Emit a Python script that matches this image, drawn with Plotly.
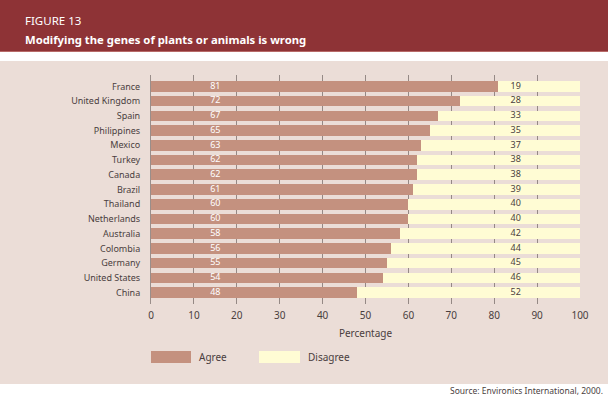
import plotly.graph_objects as go

countries = ["France", "United Kingdom", "Spain", "Philippines", "Mexico", "Turkey",
             "Canada", "Brazil", "Thailand", "Netherlands", "Australia", "Colombia",
             "Germany", "United States", "China"]
agree = [81, 72, 67, 65, 63, 62, 62, 61, 60, 60, 58, 56, 55, 54, 48]
disagree = [19, 28, 33, 35, 37, 38, 38, 39, 40, 40, 42, 44, 45, 46, 52]
x_ticks = [0, 10, 20, 30, 40, 50, 60, 70, 80, 90, 100]

AGREE_COL = "#c4917f"
DISAGREE_COL = "#fffcd4"
PANEL = "#ebddd7"
HEADER = "#8e3336"
TXT = "#4a3e3e"
FONT = "Noto Sans"

W, H = 608, 396
L, R, T, B = 151, 28, 75, 92
PW, PH = W - L - R, H - T - B


def px(x):
    return (x - L) / PW


def py(y):
    return (H - B - y) / PH


fig = go.Figure()
fig.add_trace(go.Bar(y=countries, x=agree, orientation="h", name="Agree",
                     marker=dict(color=AGREE_COL, line=dict(width=0))))
fig.add_trace(go.Bar(y=countries, x=disagree, orientation="h", name="Disagree",
                     marker=dict(color=DISAGREE_COL, line=dict(width=0))))
fig.add_trace(go.Scatter(y=countries, x=[15] * len(countries), mode="text",
                         text=[str(v) for v in agree],
                         textfont=dict(color="white", size=9, family=FONT),
                         hoverinfo="skip", showlegend=False))
fig.add_trace(go.Scatter(y=countries, x=[85] * len(countries), mode="text",
                         text=[str(v) for v in disagree],
                         textfont=dict(color=TXT, size=9, family=FONT),
                         hoverinfo="skip", showlegend=False))

shapes = [
    # panel
    dict(type="rect", xref="paper", yref="paper", x0=px(0), x1=px(W), y0=py(384), y1=py(61),
         fillcolor=PANEL, line=dict(width=0), layer="below"),
    # header
    dict(type="rect", xref="paper", yref="paper", x0=px(0), x1=px(W), y0=py(52), y1=py(0),
         fillcolor=HEADER, line=dict(width=0), layer="below"),
    dict(type="line", xref="paper", yref="paper", x0=px(0), x1=px(W), y0=py(51.5), y1=py(51.5),
         line=dict(color="#b86a68", width=1), layer="below"),
    # legend swatches
    dict(type="rect", xref="paper", yref="paper", x0=px(151), x1=px(191), y0=py(363), y1=py(351),
         fillcolor=AGREE_COL, line=dict(width=0)),
    dict(type="rect", xref="paper", yref="paper", x0=px(259), x1=px(300), y0=py(363), y1=py(351),
         fillcolor=DISAGREE_COL, line=dict(width=0)),
]

annotations = [
    dict(text="FIGURE 13", xref="paper", yref="paper", x=px(23), y=py(20), xanchor="left",
         yanchor="middle", showarrow=False, font=dict(color="white", size=11.5, family=FONT)),
    dict(text="<b>Modifying the genes of plants or animals is wrong</b>", xref="paper", yref="paper",
         x=px(23), y=py(39), xanchor="left", yanchor="middle", showarrow=False,
         font=dict(color="white", size=11.3, family=FONT)),
    dict(text="Agree", xref="paper", yref="paper", x=px(197), y=py(357), xanchor="left",
         yanchor="middle", showarrow=False, font=dict(color=TXT, size=10, family=FONT)),
    dict(text="Disagree", xref="paper", yref="paper", x=px(306), y=py(357), xanchor="left",
         yanchor="middle", showarrow=False, font=dict(color=TXT, size=10, family=FONT)),
    dict(text="Source: Environics International, 2000.", xref="paper", yref="paper", x=px(605),
         y=py(390), xanchor="right", yanchor="middle", showarrow=False,
         font=dict(color=TXT, size=8.5, family=FONT)),
]

fig.update_layout(
    width=W, height=H, margin=dict(l=L, r=R, t=T, b=B),
    barmode="stack", bargap=0.28,
    paper_bgcolor="white", plot_bgcolor="rgba(0,0,0,0)",
    showlegend=False,
    shapes=shapes, annotations=annotations,
    font=dict(family=FONT, color=TXT, size=9),
    xaxis=dict(range=[0, 100], tickvals=x_ticks, showgrid=True, gridcolor="#958985", gridwidth=1,
               zeroline=False, showline=False, ticks="", ticklabelstandoff=4,
               tickfont=dict(size=10, color=TXT, family=FONT),
               title=dict(text="Percentage", font=dict(size=10, color=TXT, family=FONT), standoff=8),
               fixedrange=True),
    yaxis=dict(autorange="reversed", showgrid=False, zeroline=False, showline=True,
               linecolor="#9a8e8a", linewidth=1, ticks="", ticklabelstandoff=8,
               tickfont=dict(size=9, color=TXT, family=FONT), fixedrange=True),
)

fig.write_html("out.html", config={"displayModeBar": False},
               post_script="document.body.style.margin='0';document.body.style.overflow='hidden';")
